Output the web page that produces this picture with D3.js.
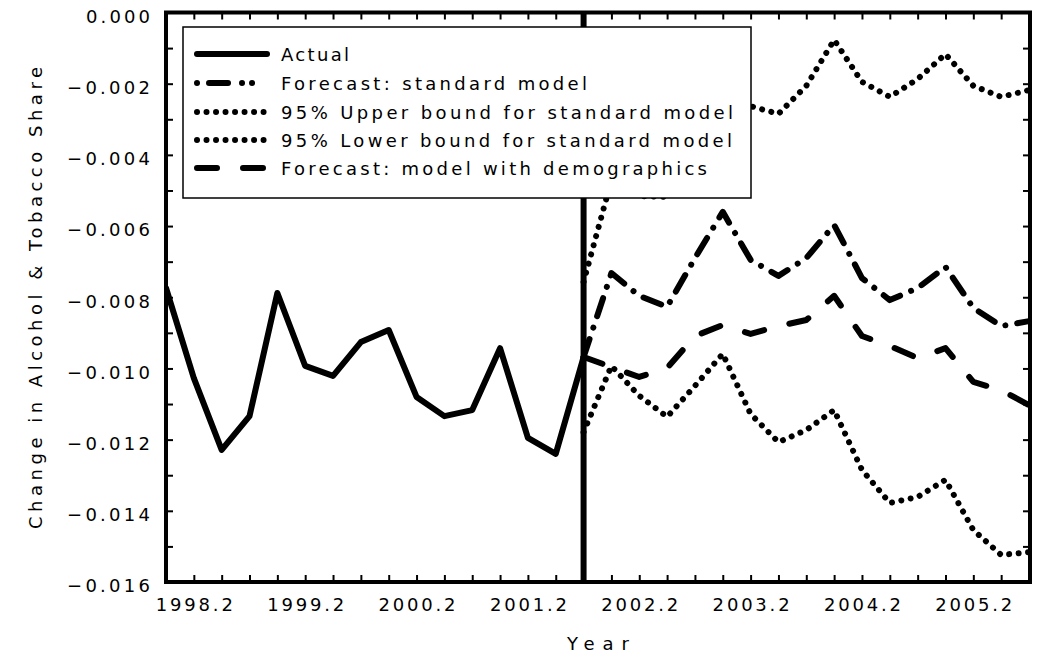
<!DOCTYPE html>
<html lang="en">
<head>
<meta charset="utf-8">
<script src="https://d3js.org/d3.v7.min.js"></script>
<style>
body { margin: 0; background: #fff; }
text { font-family: "DejaVu Sans", sans-serif; fill: #000; }
</style>
</head>
<body>
<script type="text/javascript">

// quarters, 1998.1 .. 2005.4
var quarters = ["1998.1","1998.2","1998.3","1998.4","1999.1","1999.2","1999.3","1999.4",
  "2000.1","2000.2","2000.3","2000.4","2001.1","2001.2","2001.3","2001.4",
  "2002.1","2002.2","2002.3","2002.4","2003.1","2003.2","2003.3","2003.4",
  "2004.1","2004.2","2004.3","2004.4","2005.1","2005.2","2005.3","2005.4"];

// 1998.1 - 2001.4
var actual = [-0.00774, -0.01027, -0.01229, -0.01134, -0.00788, -0.00993, -0.01021, -0.00926,
  -0.00892, -0.01080, -0.01134, -0.01117, -0.00943, -0.01195, -0.01240, -0.00968];

// 2001.4 - 2005.4
var forecastStd = [-0.00968, -0.00732, -0.00796, -0.00827, -0.00690, -0.00560, -0.00695, -0.00740,
  -0.00690, -0.00597, -0.00746, -0.00808, -0.00774, -0.00715, -0.00830, -0.00881, -0.00867];
var upperStd = [-0.00757, -0.00471, -0.00516, -0.00518, -0.00330, -0.00162, -0.00263, -0.00285,
  -0.00206, -0.00077, -0.00195, -0.00237, -0.00187, -0.00117, -0.00206, -0.00237, -0.00218];
var lowerStd = [-0.01179, -0.00993, -0.01077, -0.01136, -0.01049, -0.00959, -0.01128, -0.01207,
  -0.01173, -0.01117, -0.01285, -0.01378, -0.01361, -0.01313, -0.01454, -0.01524, -0.01516];
var forecastDemo = [-0.00968, -0.00996, -0.01024, -0.00999, -0.00909, -0.00878, -0.00903, -0.00881,
  -0.00864, -0.00796, -0.00909, -0.00937, -0.00971, -0.00943, -0.01038, -0.01061, -0.01103];

var forecastStart = 15; // index of 2001.4

var legendNames = ["Actual", "Forecast: standard model", "95% Upper bound for standard model",
  "95% Lower bound for standard model", "Forecast: model with demographics"];

var W = 1045, H = 662;
var pLeft = 166, pRight = 1030, pTop = 12.5, pBottom = 582;

var svg = d3.select("body").append("svg")
  .attr("width", W)
  .attr("height", H);

var x = d3.scalePoint().domain(quarters).range([pLeft, 1029]);
var y = d3.scaleLinear().domain([-0.016, 0]).range([pBottom, pTop]);

svg.append("clipPath").attr("id", "clip")
  .append("rect").attr("x", pLeft).attr("y", pTop).attr("width", pRight - pLeft).attr("height", pBottom - pTop);

var line = d3.line()
  .x(function(d) { return x(d.q); })
  .y(function(d) { return y(d.v); });

function series(vals, start) {
  return vals.map(function(v, i) { return { q: quarters[start + i], v: v }; });
}

var styles = [
  { data: series(actual, 0), dash: null },
  { data: series(forecastStd, forecastStart), dash: "19 12 0.01 12" },
  { data: series(upperStd, forecastStart), dash: "0.01 9.5" },
  { data: series(lowerStd, forecastStart), dash: "0.01 9.5" },
  { data: series(forecastDemo, forecastStart), dash: "20 26" }
];

var plot = svg.append("g").attr("clip-path", "url(#clip)");

plot.selectAll("path.series")
  .data(styles)
  .enter().append("path")
  .attr("class", "series")
  .attr("d", function(d) { return line(d.data); })
  .attr("fill", "none")
  .attr("stroke", "#000")
  .attr("stroke-width", 6)
  .attr("stroke-linecap", "round")
  .attr("stroke-linejoin", "round")
  .attr("stroke-dasharray", function(d) { return d.dash; });

// forecast origin
plot.append("line")
  .attr("x1", x(quarters[forecastStart])).attr("x2", x(quarters[forecastStart]))
  .attr("y1", pTop).attr("y2", pBottom)
  .attr("stroke", "#000").attr("stroke-width", 6);

// legend
var lg = svg.append("g");
lg.append("rect")
  .attr("x", 183).attr("y", 27).attr("width", 568).attr("height", 171)
  .attr("fill", "#fff").attr("stroke", "#000").attr("stroke-width", 1.5);

var legendDash = [null, "0.01 12 19 14 0.01 10 0.01 30", "0.01 9.5", "0.01 9.5", "20 26"];
var legendWidths = [68, 306, 452, 451, 426];
var rowY = [54, 83, 112, 140, 168];

var rows = lg.selectAll("g.row")
  .data(legendNames)
  .enter().append("g")
  .attr("class", "row")
  .attr("transform", function(d, i) { return "translate(0," + rowY[i] + ")"; });

rows.append("line")
  .attr("x1", 197).attr("x2", 267)
  .attr("stroke", "#000").attr("stroke-width", 6)
  .attr("stroke-linecap", "round")
  .attr("stroke-dasharray", function(d, i) { return legendDash[i]; });

rows.append("text")
  .attr("x", 281).attr("y", 6.5)
  .attr("font-size", 18)
  .attr("textLength", function(d, i) { return legendWidths[i]; })
  .attr("lengthAdjust", "spacing")
  .text(function(d) { return d; });

// axes: inward ticks on all sides
var fmt = d3.format(".3f");
var yTicks = y.ticks(16);

svg.append("g")
  .attr("transform", "translate(0," + pBottom + ")")
  .call(d3.axisBottom(x).tickSize(-7).tickPadding(16)
    .tickFormat(function(q) { return q.slice(-2) === ".2" ? q : ""; }))
  .call(function(g) {
    g.select(".domain").remove();
    g.selectAll("line").attr("stroke-width", 2);
    g.selectAll("text").attr("font-size", 18).attr("font-family", null)
      .filter(function(q) { return q.slice(-2) === ".2"; })
      .attr("textLength", 77).attr("lengthAdjust", "spacing");
  });

svg.append("g")
  .attr("transform", "translate(0," + pTop + ")")
  .call(d3.axisTop(x).tickSize(-7).tickFormat(""))
  .call(function(g) { g.select(".domain").remove(); g.selectAll("line").attr("stroke-width", 2); });

svg.append("g")
  .attr("transform", "translate(" + pLeft + ",0)")
  .call(d3.axisLeft(y).tickValues(yTicks).tickSize(-7).tickPadding(16)
    .tickFormat(function(d) { return Math.round(d * 1000) % 2 === 0 ? fmt(d) : ""; }))
  .call(function(g) {
    g.select(".domain").remove();
    g.selectAll("line").attr("stroke-width", 2);
    g.selectAll("text").attr("font-size", 18).attr("font-family", null).attr("dy", "0.55em")
      .filter(function(d) { return Math.round(d * 1000) % 2 === 0; })
      .attr("textLength", function(d) { return d < 0 ? 83 : 64; })
      .attr("lengthAdjust", "spacing");
  });

svg.append("g")
  .attr("transform", "translate(" + pRight + ",0)")
  .call(d3.axisRight(y).tickValues(yTicks).tickSize(-7).tickFormat(""))
  .call(function(g) { g.select(".domain").remove(); g.selectAll("line").attr("stroke-width", 2); });

// frame
svg.append("rect")
  .attr("x", pLeft).attr("y", pTop).attr("width", pRight - pLeft).attr("height", pBottom - pTop)
  .attr("fill", "none").attr("stroke", "#000").attr("stroke-width", 4);

// titles
svg.append("text")
  .attr("x", 598).attr("y", 650)
  .attr("text-anchor", "middle")
  .attr("font-size", 18)
  .attr("textLength", 62).attr("lengthAdjust", "spacing")
  .text("Year");

svg.append("text")
  .attr("transform", "translate(42,298) rotate(-90)")
  .attr("text-anchor", "middle")
  .attr("font-size", 18)
  .attr("textLength", 462).attr("lengthAdjust", "spacing")
  .text("Change in Alcohol & Tobacco Share");

</script>
</body>
</html>
